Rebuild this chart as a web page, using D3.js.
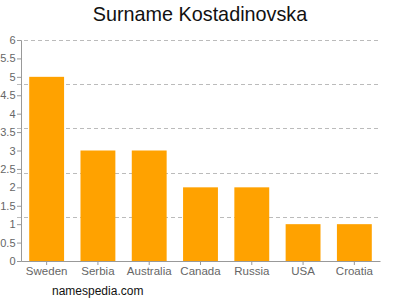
<!DOCTYPE html>
<html>
<head>
<meta charset="utf-8">
<script src="https://cdn.jsdelivr.net/npm/d3@7"></script>
<style>
  body { margin: 0; background: #fff; }
  svg { font-family: "Liberation Sans", Arial, sans-serif; }
</style>
</head>
<body>
<svg id="chart" width="400" height="300"></svg>
<script>
let countries = ["Sweden", "Serbia", "Australia", "Canada", "Russia", "USA", "Croatia"];
let counts = [5, 3, 3, 2, 2, 1, 1];
let yTicks = [0, 0.5, 1, 1.5, 2, 2.5, 3, 3.5, 4, 4.5, 5, 5.5, 6];
let gridValues = [1.2, 2.4, 3.6, 4.8, 6];

let svg = d3.select("#chart");
let plotLeft = 21, plotRight = 380, plotTop = 40, plotBottom = 261;

let x = d3.scaleBand().domain(countries).range([plotLeft, plotRight]).paddingInner(0.32).paddingOuter(0.16);
let y = d3.scaleLinear().domain([0, 6]).range([plotBottom, plotTop]);

// title
svg.append("text")
  .attr("x", 200).attr("y", 21)
  .attr("text-anchor", "middle")
  .attr("font-size", 19.8)
  .attr("fill", "#111")
  .text("Surname Kostadinovska");

// dashed grid
svg.append("g")
  .selectAll("line")
  .data(gridValues)
  .enter()
  .append("line")
  .attr("x1", plotLeft - 4).attr("x2", plotRight)
  .attr("y1", d => Math.round(y(d)) + 0.5)
  .attr("y2", d => Math.round(y(d)) + 0.5)
  .attr("stroke", "#bbb")
  .attr("stroke-dasharray", "4,3");

// bars
svg.append("g")
  .selectAll("rect")
  .data(countries)
  .enter()
  .append("rect")
  .attr("x", d => x(d))
  .attr("width", x.bandwidth())
  .attr("y", (d, i) => y(counts[i]))
  .attr("height", (d, i) => plotBottom - y(counts[i]))
  .attr("fill", "#ffa200");

// y axis
let yAxis = svg.append("g")
  .attr("transform", `translate(${plotLeft},0)`)
  .call(d3.axisLeft(y).tickValues(yTicks).tickSize(4).tickPadding(1.5).tickFormat(d3.format("")));
yAxis.select(".domain").attr("stroke", "#999");
yAxis.selectAll(".tick line").attr("stroke", "#999");
yAxis.selectAll("text").attr("fill", "#666").attr("font-size", 11).attr("font-family", "Liberation Sans, Arial, sans-serif");

// x axis
let xAxis = svg.append("g")
  .attr("transform", `translate(0,${plotBottom})`)
  .call(d3.axisBottom(x).tickSize(4).tickSizeOuter(0).tickPadding(2));
xAxis.select(".domain").attr("stroke", "#999");
xAxis.selectAll(".tick line").attr("stroke", "#999");
xAxis.selectAll("text").attr("fill", "#666").attr("font-size", 11.5).attr("font-family", "Liberation Sans, Arial, sans-serif");

// footer
svg.append("text")
  .attr("x", 52).attr("y", 295)
  .attr("font-size", 12)
  .attr("fill", "#111")
  .text("namespedia.com");
</script>
</body>
</html>
